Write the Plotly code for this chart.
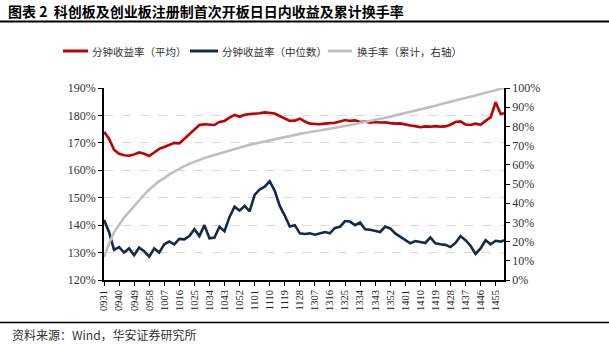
import plotly.graph_objects as go

# ---------------- data ----------------
# trading minutes (categories)
morning = [f"{h:02d}{m:02d}" for h in (9, 10, 11) for m in range(60)
           if (h == 9 and m >= 31) or h == 10 or (h == 11 and m <= 30)]
afternoon = [f"{h:02d}{m:02d}" for h in (13, 14, 15) for m in range(60)
             if (h == 13 and m >= 1) or h == 14 or (h == 15 and m == 0)]
minutes = morning + afternoon  # 240 minutes

tick_labels = ["0931", "0940", "0949", "0958", "1007", "1016", "1025", "1034",
               "1043", "1052", "1101", "1110", "1119", "1128", "1307", "1316",
               "1325", "1334", "1343", "1352", "1401", "1410", "1419", "1428",
               "1437", "1446", "1455"]

# sampled minutes (every 3rd minute plus the last one)
sample_idx = list(range(0, 240, 3)) + [239]
sample_minutes = [minutes[i] for i in sample_idx]

mean_ret = [174.0, 171.5, 167.5, 166.0, 165.5, 165.3, 165.8, 166.5, 166.0, 165.2,
            166.5, 167.8, 168.5, 169.2, 170.0, 169.8, 171.5, 173.2, 175.0, 176.5,
            176.8, 176.6, 176.5, 177.6, 178.0, 179.2, 180.2, 179.5, 180.2, 180.5,
            180.6, 180.8, 181.1, 181.0, 180.7, 179.8, 178.8, 178.0, 178.1, 178.8,
            177.8, 177.0, 176.9, 176.8, 177.0, 177.1, 177.3, 177.8, 178.3, 178.0,
            178.2, 177.6, 177.8, 177.4, 177.6, 177.4, 177.5, 177.2, 177.0, 177.1,
            176.6, 176.3, 176.1, 175.7, 176.0, 175.9, 176.1, 175.9, 176.0, 176.6,
            177.6, 177.8, 176.7, 176.5, 177.0, 176.6, 178.0, 179.3, 184.8, 180.5,
            180.8]

median_ret = [141.9, 137.5, 131.0, 132.0, 130.0, 131.5, 129.0, 131.8, 130.5, 128.5,
              131.5, 130.0, 133.0, 134.0, 133.0, 135.0, 134.8, 136.0, 138.5, 136.0,
              140.0, 135.2, 135.5, 139.4, 137.8, 143.0, 146.7, 145.3, 147.0, 145.0,
              151.0, 153.0, 154.0, 156.0, 152.5, 147.0, 143.5, 139.5, 140.0, 137.0,
              136.8, 137.0, 136.5, 137.0, 137.5, 137.0, 139.0, 139.4, 141.5, 141.3,
              140.0, 141.0, 138.5, 138.3, 138.0, 137.5, 139.5, 138.8, 137.0, 135.8,
              134.5, 133.4, 134.2, 133.8, 133.5, 135.5, 133.4, 133.0, 132.8, 132.0,
              133.5, 136.0, 134.5, 132.5, 129.5, 131.5, 134.5, 133.0, 134.3, 134.0,
              134.5]

turnover = [12.0, 19.0, 24.8, 29.0, 32.5, 35.5, 38.5, 42.0, 44.5, 47.0,
            49.5, 51.5, 53.0, 55.0, 56.5, 58.0, 59.3, 60.5, 61.6, 62.6,
            63.5, 64.3, 65.1, 65.9, 66.7, 67.5, 68.3, 69.0, 69.7, 70.4,
            71.0, 71.6, 72.3, 72.9, 73.5, 74.1, 74.6, 75.1, 75.6, 76.1,
            76.6, 77.0, 77.4, 77.9, 78.3, 78.7, 79.2, 79.7, 80.2, 80.7,
            81.2, 81.7, 82.2, 82.8, 83.3, 83.9, 84.5, 85.1, 85.7, 86.3,
            86.9, 87.5, 88.1, 88.8, 89.5, 90.2, 90.8, 91.5, 92.1, 92.8,
            93.5, 94.2, 94.8, 95.5, 96.2, 96.8, 97.5, 98.1, 98.9, 99.6,
            100.0]

series_names = ["分钟收益率（平均）", "分钟收益率（中位数）", "换手率（累计，右轴）"]
title_text = "图表 2  科创板及创业板注册制首次开板日日内收益及累计换手率"
source_text = "资料来源：Wind，华安证券研究所"

# ---------------- figure ----------------
RED = "#C00000"
NAVY = "#15294A"
GRAY = "#BFBFBF"
COLORS = [RED, NAVY, GRAY]
SERIF = "Liberation Serif, Times New Roman, serif"
CJK = "Noto Sans CJK SC"

W, H = 609, 345
L, R, T, B = 104, 105, 88, 65
PW, PH = W - L - R, H - T - B


def px(pix):  # pixel x -> paper x
    return (pix - L) / PW


def py(pix):  # pixel y from top -> paper y
    return (H - B - pix) / PH


fig = go.Figure()
fig.add_trace(go.Scatter(x=sample_minutes, y=[v / 100 for v in mean_ret],
                         mode="lines", name=series_names[0],
                         line=dict(color=RED, width=2.6)))
fig.add_trace(go.Scatter(x=sample_minutes, y=[v / 100 for v in median_ret],
                         mode="lines", name=series_names[1],
                         line=dict(color=NAVY, width=2.6)))
fig.add_trace(go.Scatter(x=sample_minutes, y=[v / 100 for v in turnover],
                         mode="lines", name=series_names[2], yaxis="y2",
                         line=dict(color=GRAY, width=2.6)))

fig.update_layout(
    width=W, height=H,
    margin=dict(l=L, r=R, t=T, b=B),
    paper_bgcolor="white", plot_bgcolor="white",
    showlegend=False,
    xaxis=dict(type="category", categoryorder="array", categoryarray=minutes,
               range=[0, 239], tickmode="array", tickvals=tick_labels,
               ticktext=tick_labels, tickangle=-90,
               tickfont=dict(family=SERIF, size=10.5, color="#222222"),
               showline=True, linecolor="black", linewidth=1.5,
               ticks="outside", ticklen=4, tickcolor="black",
               showgrid=False, zeroline=False),
    yaxis=dict(range=[1.2, 1.9], dtick=0.1, tick0=1.2, tickformat=".0%",
               tickfont=dict(family=SERIF, size=12, color="#333333"),
               showline=True, linecolor="black", linewidth=1.5,
               ticks="outside", ticklen=4, tickcolor="black",
               showgrid=True, gridcolor="#D9D9D9", griddash="dash", gridwidth=1,
               zeroline=False),
    yaxis2=dict(range=[0, 1.0], dtick=0.1, tick0=0, tickformat=".0%",
                overlaying="y", side="right",
                tickfont=dict(family=SERIF, size=12, color="#333333"),
                showline=True, linecolor="black", linewidth=1.5,
                ticks="outside", ticklen=4, tickcolor="black",
                showgrid=False, zeroline=False),
)

# manual legend
leg_items = [(63, 88, 90), (190, 218, 220), (328, 352, 355)]
for (x0, x1, tx), name, col in zip(leg_items, series_names, COLORS):
    fig.add_shape(type="line", xref="paper", yref="paper",
                  x0=px(x0), x1=px(x1), y0=py(51), y1=py(51),
                  line=dict(color=col, width=3))
    fig.add_annotation(text=name, xref="paper", yref="paper", x=px(tx), y=py(51),
                       showarrow=False, xanchor="left", yanchor="middle",
                       font=dict(family=CJK, size=10.5, color="#333333"))

# title and source
fig.add_annotation(text="<b>" + title_text + "</b>", xref="paper", yref="paper",
                   x=px(6), y=py(11), showarrow=False, xanchor="left",
                   yanchor="middle", font=dict(family=CJK, size=14, color="black"))
fig.add_annotation(text=source_text, xref="paper", yref="paper",
                   x=px(10), y=py(334), showarrow=False, xanchor="left",
                   yanchor="middle", font=dict(family=CJK, size=12, color="#333333"))

# horizontal rules
fig.add_shape(type="line", xref="paper", yref="paper", x0=px(0), x1=px(609),
              y0=py(21.5), y1=py(21.5), line=dict(color="black", width=2))
fig.add_shape(type="line", xref="paper", yref="paper", x0=px(0), x1=px(609),
              y0=py(322.5), y1=py(322.5), line=dict(color="black", width=1.5))

fig.write_html("out.html")
